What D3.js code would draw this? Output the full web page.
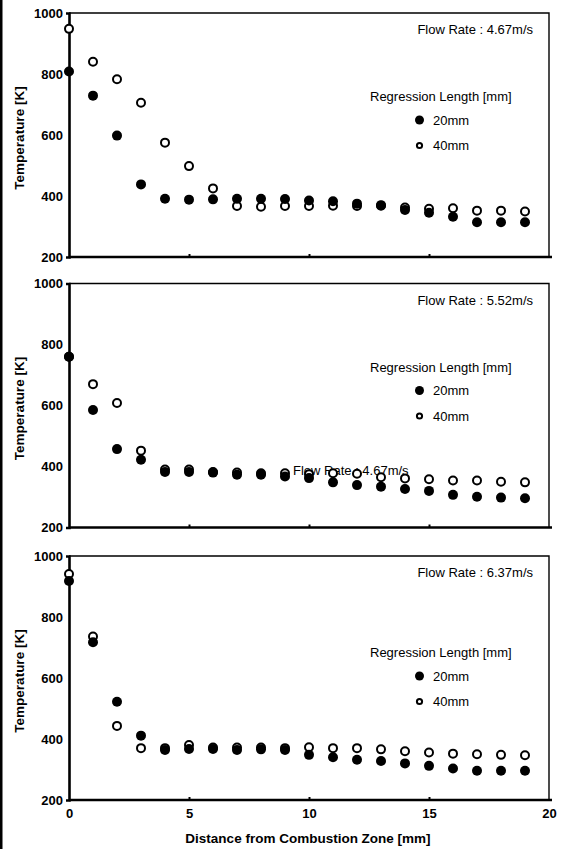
<!DOCTYPE html>
<meta charset="utf-8">
<head>
  <title>Temperature vs distance</title>
  <style>
    body { margin: 0; background: #fff; }
    text { font-family: "Liberation Sans", Arial, sans-serif; }
  </style>
</head>

<script src="https://d3js.org/d3.v7.min.js"></script>

<div id="my_dataviz"></div>

<script>

// distance from combustion zone [mm]
var distance = [0, 1, 2, 3, 4, 5, 6, 7, 8, 9, 10, 11, 12, 13, 14, 15, 16, 17, 18, 19];

// flow rate labels
var flowRates = ["4.67", "5.52", "6.37"];

// temperature [K], regression length 20mm (filled) and 40mm (open)
var temp20_467 = [808, 729, 598, 438, 391, 388, 389, 391, 391, 390, 385, 383, 375, 370, 354, 345, 332, 314, 314, 314];
var temp40_467 = [948, 840, 783, 706, 575, 498, 425, 367, 365, 367, 367, 368, 367, 368, 362, 358, 360, 352, 352, 349];

var temp20_552 = [760, 585, 457, 422, 382, 382, 380, 373, 373, 367, 362, 348, 339, 334, 326, 320, 307, 301, 298, 296];
var temp40_552 = [760, 670, 608, 452, 390, 390, 382, 380, 378, 378, 375, 378, 376, 365, 361, 358, 354, 354, 350, 348];

var temp20_637 = [918, 717, 522, 411, 364, 367, 367, 364, 366, 364, 348, 340, 332, 328, 320, 312, 303, 296, 296, 296];
var temp40_637 = [941, 736, 443, 370, 370, 380, 372, 372, 372, 370, 373, 370, 370, 366, 360, 356, 352, 350, 348, 347];

var panels = [
  {flow: flowRates[0], t20: temp20_467, t40: temp40_467},
  {flow: flowRates[1], t20: temp20_552, t40: temp40_552},
  {flow: flowRates[2], t20: temp20_637, t40: temp40_637}
];

var yTicks = [200, 400, 600, 800, 1000];
var xTicks = [0, 5, 10, 15, 20];

var W = 561, H = 849;
var left = 69, right = 549, ph = 244;
var tops = [13, 283.5, 556];
var legendDy = [0, 0, 13];

var svg = d3.select("#my_dataviz")
  .append("svg")
    .attr("width", W)
    .attr("height", H);

// black strip on the left edge
svg.append("rect")
  .attr("x", 0).attr("y", 0)
  .attr("width", 2.5).attr("height", H)
  .attr("fill", "#000");

var x = d3.scaleLinear().domain([0, 20]).range([left, right]);

panels.forEach(function(p, i) {
  var top = tops[i];
  var y = d3.scaleLinear().domain([200, 1000]).range([top + ph, top]);
  var g = svg.append("g");

  // thin frame (top and right)
  g.append("path")
    .attr("d", "M" + left + "," + top + "H" + right + "V" + (top + ph))
    .attr("fill", "none")
    .attr("stroke", "#000")
    .attr("stroke-width", 1.4);

  // Y axis
  var ya = g.append("g")
    .attr("transform", "translate(" + left + ",0)")
    .call(d3.axisLeft(y).tickValues(yTicks).tickFormat(d3.format("d"))
      .tickSizeInner(0).tickSizeOuter(3).tickPadding(6));
  ya.select(".domain").attr("stroke-width", 2.6);
  ya.selectAll("text")
    .style("font-family", "Liberation Sans, Arial, sans-serif")
    .style("font-size", "13px")
    .style("font-weight", "bold")
    .attr("fill", "#000");

  // X axis
  var xa = g.append("g")
    .attr("transform", "translate(0," + (top + ph) + ")")
    .call(d3.axisBottom(x).tickValues(xTicks).tickSizeInner(-3).tickSizeOuter(0).tickPadding(9));
  xa.select(".domain").attr("stroke-width", 2.6).attr("d", "M" + left + ",0H" + (right + 3));
  xa.selectAll(".tick line").attr("stroke-width", 2)
    .filter(function(d) { return d == 0 || d == 20; }).remove();
  xa.selectAll("text")
    .style("font-family", "Liberation Sans, Arial, sans-serif")
    .style("font-size", "13px")
    .style("font-weight", "bold")
    .attr("fill", "#000");
  if (i < 2) xa.selectAll("text").remove();

  // Y title
  g.append("text")
    .attr("transform", "translate(24," + (top + ph / 2 + 3) + ") rotate(-90)")
    .style("text-anchor", "middle")
    .style("font-weight", "bold")
    .style("font-size", "13.5px")
    .text("Temperature [K]");

  // flow rate
  g.append("text")
    .attr("x", 533)
    .attr("y", top + 21)
    .style("text-anchor", "end")
    .style("font-size", "13px")
    .text("Flow Rate : " + p.flow + "m/s");

  // stray label in the middle panel
  if (i == 1) {
    g.append("text")
      .attr("x", 293)
      .attr("y", 474.5)
      .style("font-size", "13px")
      .text("Flow Rate : " + flowRates[0] + "m/s");
  }

  // legend
  var ly = top + legendDy[i];
  g.append("text")
    .attr("x", 370)
    .attr("y", ly + 88)
    .style("font-size", "13px")
    .text("Regression Length [mm]");
  g.append("circle")
    .attr("cx", 419.5).attr("cy", ly + 107)
    .attr("r", 4.5).attr("fill", "#000");
  g.append("text")
    .attr("x", 433).attr("y", ly + 111.5)
    .style("font-size", "13px")
    .text("20mm");
  g.append("circle")
    .attr("cx", 419.5).attr("cy", ly + 132.5)
    .attr("r", 2.6).attr("fill", "#fff")
    .attr("stroke", "#000").attr("stroke-width", 2);
  g.append("text")
    .attr("x", 433).attr("y", ly + 137)
    .style("font-size", "13px")
    .text("40mm");

  // 40mm open circles
  g.selectAll(".open")
    .data(p.t40)
    .enter()
    .append("circle")
      .attr("cx", function(d, j) { return x(distance[j]); })
      .attr("cy", function(d) { return y(d); })
      .attr("r", 4)
      .attr("fill", "#fff")
      .attr("stroke", "#000")
      .attr("stroke-width", 2);

  // 20mm filled circles
  g.selectAll(".filled")
    .data(p.t20)
    .enter()
    .append("circle")
      .attr("cx", function(d, j) { return x(distance[j]); })
      .attr("cy", function(d) { return y(d); })
      .attr("r", 5)
      .attr("fill", "#000");
});

// X title
svg.append("text")
  .attr("x", 308)
  .attr("y", 843)
  .style("text-anchor", "middle")
  .style("font-weight", "bold")
  .style("font-size", "13.5px")
  .text("Distance from Combustion Zone [mm]");

</script>
